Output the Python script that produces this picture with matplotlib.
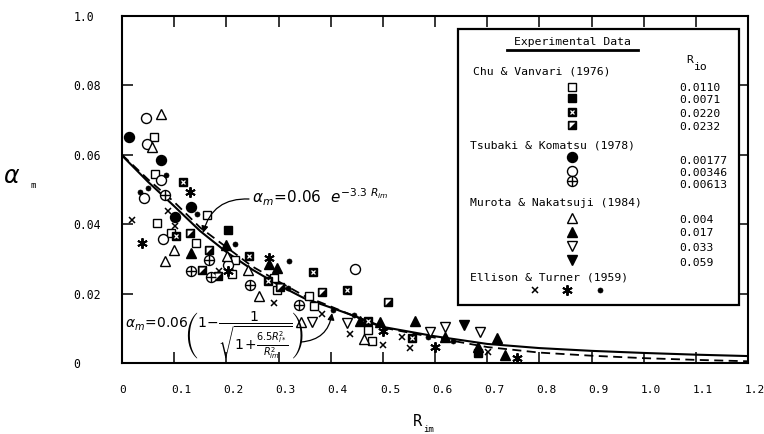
import matplotlib
matplotlib.use("Agg")
import matplotlib.pyplot as plt
from matplotlib.patches import Rectangle
from matplotlib.transforms import ScaledTranslation

# ---------------- data ----------------
curve_R = [0, 0.05, 0.1, 0.15, 0.2, 0.25, 0.3, 0.35, 0.4, 0.45, 0.5, 0.6, 0.7, 0.8, 0.9, 1.0, 1.1, 1.2]
curve_exp = [0.0600, 0.0529, 0.0464, 0.0390, 0.0334, 0.0278, 0.0235, 0.0193, 0.0163, 0.0132,
             0.0102, 0.0073, 0.0046, 0.0030, 0.0021, 0.0014, 0.0009, 0.0005]
curve_sqrt = [0.0598, 0.0522, 0.0452, 0.0380, 0.0320, 0.0269, 0.0225, 0.0186, 0.0160, 0.0133,
              0.0104, 0.0077, 0.0055, 0.0043, 0.0035, 0.0029, 0.0024, 0.0020]

chu_0110_R = [0.062, 0.064, 0.162, 0.067, 0.094, 0.142, 0.216, 0.210, 0.291, 0.297, 0.359, 0.368, 0.472, 0.479]
chu_0110_a = [0.0651, 0.0546, 0.0426, 0.0404, 0.0375, 0.0346, 0.0298, 0.0257, 0.0245, 0.0211, 0.0194, 0.0165, 0.0095, 0.0064]
chu_0071_R = [0.204, 0.683]
chu_0071_a = [0.0382, 0.0030]
chu_0220_R = [0.117, 0.104, 0.243, 0.280, 0.367, 0.431, 0.472, 0.555]
chu_0220_a = [0.0522, 0.0365, 0.0307, 0.0235, 0.0261, 0.0209, 0.0120, 0.0071]
chu_0232_R = [0.131, 0.167, 0.153, 0.184, 0.303, 0.383, 0.510]
chu_0232_a = [0.0375, 0.0327, 0.0269, 0.0251, 0.0218, 0.0204, 0.0177]

tsu_177_R = [0.013, 0.075, 0.132, 0.102]
tsu_177_a = [0.0650, 0.0584, 0.0450, 0.0420]
tsu_346_R = [0.046, 0.048, 0.075, 0.043, 0.079, 0.203, 0.447]
tsu_346_a = [0.0705, 0.0632, 0.0527, 0.0476, 0.0358, 0.0283, 0.0271]
tsu_613_R = [0.083, 0.167, 0.133, 0.171, 0.246, 0.339]
tsu_613_a = [0.0483, 0.0296, 0.0266, 0.0247, 0.0225, 0.0168]

mur_004_R = [0.075, 0.058, 0.099, 0.082, 0.201, 0.241, 0.263, 0.344, 0.463]
mur_004_a = [0.0717, 0.0622, 0.0325, 0.0293, 0.0309, 0.0269, 0.0192, 0.0119, 0.0068]
mur_017_R = [0.133, 0.199, 0.282, 0.297, 0.457, 0.495, 0.562, 0.619, 0.683, 0.719, 0.734]
mur_017_a = [0.0317, 0.0341, 0.0285, 0.0274, 0.0120, 0.0119, 0.0122, 0.0076, 0.0045, 0.0071, 0.0023]
mur_033_R = [0.364, 0.432, 0.590, 0.619, 0.686]
mur_033_a = [0.0119, 0.0115, 0.0090, 0.0105, 0.0088]
mur_059_R = [0.656]
mur_059_a = [0.0110]

ell_x_R = [0.019, 0.089, 0.102, 0.185, 0.291, 0.383, 0.437, 0.501, 0.536, 0.552, 0.702]
ell_x_a = [0.0413, 0.0437, 0.0396, 0.0266, 0.0172, 0.0142, 0.0084, 0.0052, 0.0076, 0.0042, 0.0033]
ell_star_R = [0.038, 0.130, 0.203, 0.282, 0.501, 0.600, 0.758]
ell_star_a = [0.0346, 0.0493, 0.0266, 0.0302, 0.0093, 0.0047, 0.0014]
ell_dot_R = [0.084, 0.035, 0.050, 0.144, 0.217, 0.321, 0.318, 0.405, 0.445, 0.587, 0.635]
ell_dot_a = [0.0543, 0.0493, 0.0505, 0.0430, 0.0343, 0.0293, 0.0215, 0.0153, 0.0139, 0.0074, 0.0064]

x_ticks = [0, 0.1, 0.2, 0.3, 0.4, 0.5, 0.6, 0.7, 0.8, 0.9, 1.0, 1.1, 1.2]
x_tick_labels = ["0", "0.1", "0.2", "0.3", "0.4", "0.5", "0.6", "0.7", "0.8", "0.9", "1.0", "1.1", "1.2"]
y_ticks = [0, 0.02, 0.04, 0.06, 0.08, 0.10]
y_tick_labels = ["0", "0.02", "0.04", "0.06", "0.08", "1.0"]

group_names = ["Chu & Vanvari (1976)", "Tsubaki & Komatsu (1978)",
               "Murota & Nakatsuji (1984)", "Ellison & Turner (1959)"]
rio_chu = ["0.0110", "0.0071", "0.0220", "0.0232"]
rio_tsu = ["0.00177", "0.00346", "0.00613"]
rio_mur = ["0.004", "0.017", "0.033", "0.059"]

# ---------------- styles ----------------
MONO = "DejaVu Sans Mono"
UL_TRI = [(-1, 1), (1, 1), (-1, -1), (-1, 1)]
SQ, CI, TR = 6.2, 7.2, 7.2
STYLES = {
    "sq_open": [dict(marker="s", ms=SQ, mfc="white", mec="k", mew=1.0)],
    "sq_fill": [dict(marker="s", ms=SQ, mfc="k", mec="k", mew=1.0)],
    "sq_dot": [dict(marker="s", ms=SQ, mfc="k", mec="k", mew=1.0),
               dict(marker="x", ms=3.0, mec="white", mew=0.9)],
    "sq_half": [dict(marker="s", ms=SQ, mfc="k", mec="k", mew=1.0),
                dict(marker=UL_TRI, ms=4.2, mfc="white", mec="none", mew=0)],
    "ci_fill": [dict(marker="o", ms=CI, mfc="k", mec="k", mew=1.0)],
    "ci_open": [dict(marker="o", ms=CI, mfc="white", mec="k", mew=1.0)],
    "ci_plus": [dict(marker="o", ms=CI, mfc="white", mec="k", mew=1.0),
                dict(marker="+", ms=CI, mec="k", mew=1.0)],
    "tu_open": [dict(marker="^", ms=TR, mfc="white", mec="k", mew=1.0)],
    "tu_fill": [dict(marker="^", ms=TR, mfc="k", mec="k", mew=1.0)],
    "td_open": [dict(marker="v", ms=TR, mfc="white", mec="k", mew=1.0)],
    "td_fill": [dict(marker="v", ms=TR, mfc="k", mec="k", mew=1.0)],
    "cross": [dict(marker="x", ms=5.0, mec="k", mew=1.1)],
    "aster": [dict(marker=(6, 2, 0), ms=7.5, mec="k", mew=1.4)],
    "dot": [dict(marker="o", ms=3.6, mfc="k", mec="k", mew=0.5)],
}


def draw(ax, xs, ys, kind, z=3, **kw):
    for layer in STYLES[kind]:
        ax.plot(xs, ys, linestyle="none", zorder=z, **layer, **kw)
        z += 0.01


fig = plt.figure(figsize=(7.64, 4.34), dpi=100)
ax = fig.add_axes([122 / 764, 71 / 434, 626 / 764, 347 / 434])
ax.set_xlim(0, 1.2)
ax.set_ylim(0, 0.1)

# curves
ax.plot(curve_R, curve_sqrt, color="k", lw=1.5, zorder=2)
ax.plot(curve_R, curve_exp, color="k", lw=1.3, ls=(0, (5, 3)), zorder=2)

series = [
    (chu_0110_R, chu_0110_a, "sq_open"), (chu_0071_R, chu_0071_a, "sq_fill"),
    (chu_0220_R, chu_0220_a, "sq_dot"), (chu_0232_R, chu_0232_a, "sq_half"),
    (tsu_177_R, tsu_177_a, "ci_fill"), (tsu_346_R, tsu_346_a, "ci_open"),
    (tsu_613_R, tsu_613_a, "ci_plus"),
    (mur_004_R, mur_004_a, "tu_open"), (mur_017_R, mur_017_a, "tu_fill"),
    (mur_033_R, mur_033_a, "td_open"), (mur_059_R, mur_059_a, "td_fill"),
    (ell_x_R, ell_x_a, "cross"), (ell_star_R, ell_star_a, "aster"),
    (ell_dot_R, ell_dot_a, "dot"),
]
for xs, ys, kind in series:
    draw(ax, xs, ys, kind)

# axes styling
for s in ax.spines.values():
    s.set_linewidth(1.5)
ax.set_xticks(x_ticks)
ax.set_xticklabels(x_tick_labels, fontfamily=MONO, fontsize=8.0)
ax.set_yticks(y_ticks)
ax.set_yticklabels(y_tick_labels, fontfamily=MONO, fontsize=8.3)
ax.tick_params(direction="in", length=8, width=1.1, top=True, right=True)
ax.tick_params(axis="x", pad=16)
ax.tick_params(axis="y", pad=35)
shift = ScaledTranslation(-3 / 100, 0, fig.dpi_scale_trans)
for lbl in ax.get_xticklabels():
    lbl.set_horizontalalignment("left")
    lbl.set_transform(lbl.get_transform() + shift)
for lbl in ax.get_yticklabels():
    lbl.set_horizontalalignment("left")


def P(px, py):
    """pixel position of the reference image -> axes fraction"""
    return ((px - 122) / 626, (363 - py) / 347)


# axis labels
ax.text(*P(12, 176), r"$\alpha$", fontsize=17, ha="center", va="center",
        transform=ax.transAxes)
ax.text(*P(33, 185), "m", fontsize=6.5, fontfamily=MONO, ha="center", va="center",
        transform=ax.transAxes)
ax.text(*P(417, 422), "R", fontsize=11, fontfamily=MONO, ha="center", va="center",
        transform=ax.transAxes)
ax.text(*P(429, 430), "im", fontsize=6.5, fontfamily=MONO, ha="center", va="center",
        transform=ax.transAxes)

# formulas and arrows
ax.text(*P(252, 203), r"$\alpha_m\!=\!0.06\ \ e^{-3.3\ R_{im}}$", fontsize=11,
        ha="left", va="baseline", transform=ax.transAxes)
ax.annotate("", xy=P(203, 233), xytext=P(249, 199), xycoords="axes fraction",
            textcoords="axes fraction",
            arrowprops=dict(arrowstyle="-|>", color="k", lw=0.9, mutation_scale=10,
                            connectionstyle="arc3,rad=0.4", shrinkA=0, shrinkB=0))
ax.text(*P(125, 328),
        r"$\alpha_m\!=\!0.06\!\left(1\!-\!\dfrac{1}{\sqrt{1\!+\!\frac{6.5R_{i*}^{2}}{R_{im}^{2}}}}\right)$",
        fontsize=10, ha="left", va="baseline", transform=ax.transAxes)
ax.annotate("", xy=P(332, 313), xytext=P(301, 342), xycoords="axes fraction",
            textcoords="axes fraction",
            arrowprops=dict(arrowstyle="-|>", color="k", lw=0.9, mutation_scale=10,
                            connectionstyle="arc3,rad=0.4", shrinkA=0, shrinkB=0))

# ---------------- legend box ----------------
x0, y0 = P(458, 305)
x1, y1 = P(739, 29)
ax.add_patch(Rectangle((x0, y0), x1 - x0, y1 - y0, transform=ax.transAxes,
                       facecolor="white", edgecolor="k", lw=1.6, zorder=5, clip_on=False))
lt = dict(transform=ax.transAxes, fontfamily=MONO, fontsize=8.2, zorder=6, va="center")
ax.text(*P(572, 42), "Experimental Data", ha="center", **lt)
ux0, uy = P(507, 50)
ux1, _ = P(638, 50)
ax.plot([ux0, ux1], [uy, uy], color="k", lw=2.0, transform=ax.transAxes, zorder=6,
        clip_on=False)
ax.text(*P(690, 60), "R", ha="center", **lt)
ax.text(*P(700, 67), "io", ha="center", **lt)

lm = dict(transform=ax.transAxes, clip_on=False)
mx = 572
vx = 679
ax.text(*P(473, 72), group_names[0], ha="left", **lt)
for kind, my, val, vy in zip(["sq_open", "sq_fill", "sq_dot", "sq_half"],
                             [87, 98, 112, 125], rio_chu, [88, 100, 114, 127]):
    draw(ax, [P(mx, my)[0]], [P(mx, my)[1]], kind, z=7, **lm)
    ax.text(*P(vx, vy), val, ha="left", **lt)

ax.text(*P(470, 146), group_names[1], ha="left", **lt)
for kind, my, val, vy in zip(["ci_fill", "ci_open", "ci_plus"],
                             [157, 171, 181], rio_tsu, [161, 173, 185]):
    draw(ax, [P(mx, my)[0]], [P(mx, my)[1]], kind, z=7, **lm)
    ax.text(*P(vx, vy), val, ha="left", **lt)

ax.text(*P(470, 203), group_names[2], ha="left", **lt)
for kind, my, val, vy in zip(["tu_open", "tu_fill", "td_open", "td_fill"],
                             [218, 232, 246, 260], rio_mur, [220, 233, 248, 263]):
    draw(ax, [P(mx, my)[0]], [P(mx, my)[1]], kind, z=7, **lm)
    ax.text(*P(vx, vy), val, ha="left", **lt)

ax.text(*P(470, 277), group_names[3], ha="left", **lt)
for kind, ex in zip(["cross", "aster", "dot"], [535, 567, 600]):
    draw(ax, [P(ex, 290)[0]], [P(ex, 290)[1]], kind, z=7, **lm)

fig.savefig("out.png", dpi=100)
